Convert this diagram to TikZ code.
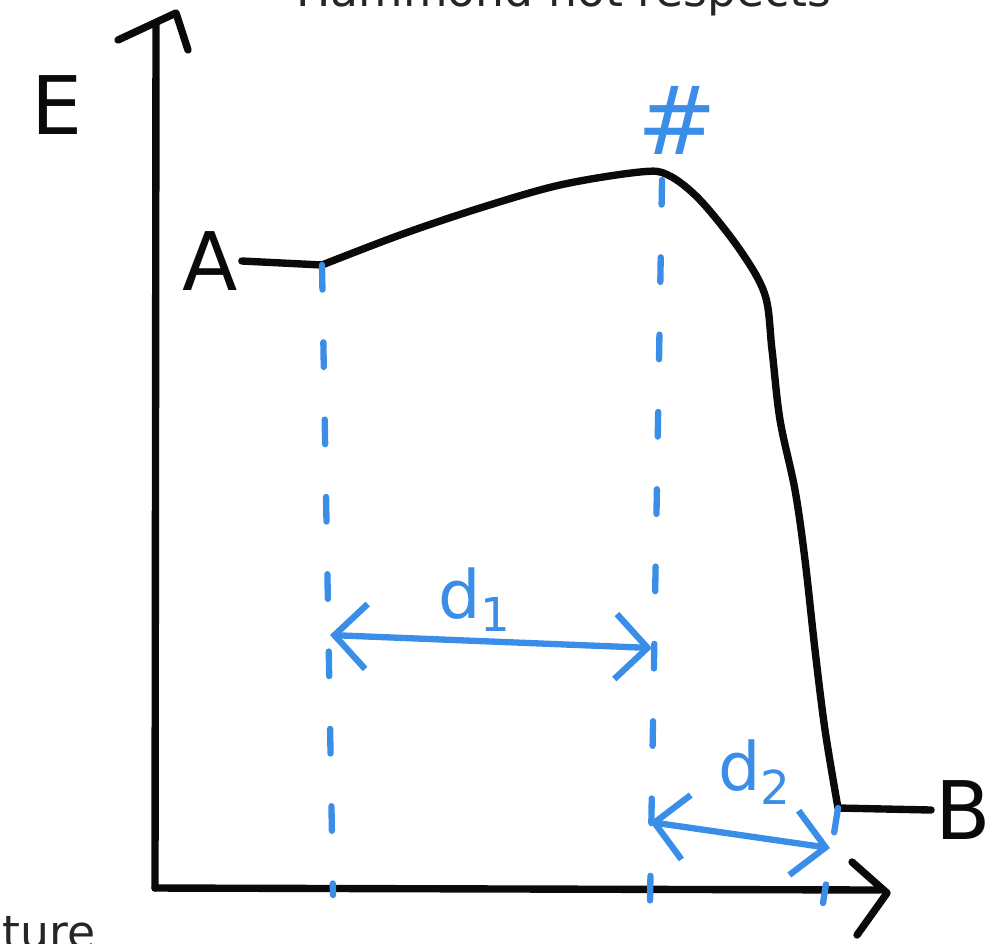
\documentclass[tikz,border=0pt]{standalone}
\usepackage{fontspec}
\setsansfont{DejaVu Sans}
\usetikzlibrary{arrows.meta}
\definecolor{skBlue}{HTML}{3A8EE8}
\definecolor{skInk}{HTML}{0A0A0A}
\tikzset{
  axis/.style={draw=skInk, line width=2.1pt, line cap=round, line join=round},
  curve/.style={draw=skInk, line width=2.1pt, line cap=round, line join=round},
  guide/.style={draw=skBlue, line width=1.8pt, line cap=round, dash pattern=on 7pt off 15pt},
  span/.style={draw=skBlue, line width=1.8pt, line cap=round, <->,
              >={Straight Barb[length=3.2mm,width=6.5mm]}},
  hand/.style={font=\sffamily\fontsize{23}{23}\selectfont, inner sep=1pt, text=skInk},
  bluehand/.style={font=\sffamily\fontsize{19}{19}\selectfont, inner sep=1pt, text=skBlue},
  note/.style={font=\sffamily\fontsize{13}{13}\selectfont, inner sep=0pt, text=black!85},
}
\begin{document}
\begin{tikzpicture}
  \useasboundingbox (0,0) rectangle (10,9.43);
  % printed text cut by the page
  \node[note,anchor=base] (title) at (5.64,9.36) {Hammond not respects};
  \node[note,anchor=base west] (foot) at (0.02,-0.05) {ture};

  % axes
  \coordinate (O) at (1.55,0.55);
  \coordinate (ytop) at (1.56,9.20);
  \coordinate (xend) at (8.80,0.53);
  \draw[axis] (O) -- (ytop);
  \draw[axis] (O) -- (xend);
  \draw[axis] (1.18,9.03) -- (1.76,9.30) -- (1.88,8.93);
  \draw[axis] (8.52,0.81) -- (8.87,0.50) -- (8.57,0.08);
  \node[hand] (E) at (0.57,8.38) {E};

  % energy profile
  \node[hand] (A) at (2.10,6.82) {A};
  \node[hand] (B) at (9.63,1.33) {B};
  \coordinate (aEnd) at (3.22,6.78);
  \coordinate (peak) at (6.68,7.68);
  \coordinate (bStart) at (8.38,1.35);
  \draw[curve] (A.east) -- (aEnd)
    plot[smooth,tension=0.55] coordinates {(aEnd) (4.00,7.08) (4.80,7.35) (5.60,7.58)
      (6.40,7.71) (peak) (7.00,7.43) (7.40,6.93) (7.65,6.48) (7.72,5.93) (7.80,5.23)
      (7.95,4.53) (8.05,3.83) (8.15,2.93) (8.25,2.13) (bStart)}
    -- (B.west);
  \node[bluehand,font=\sffamily\fontsize{27}{27}\selectfont] (ts) at (6.77,8.23) {\#};

  % distances
  \coordinate (g1b) at (3.33,0.48);
  \coordinate (g2t) at (6.62,7.63);
  \coordinate (g2b) at (6.50,0.40);
  \coordinate (g3b) at (8.23,0.40);
  \draw[guide] (aEnd) -- (g1b);
  \draw[guide] (g2t) -- (g2b);
  \draw[guide] (bStart) -- (g3b);
  \coordinate (s1l) at (3.30,3.08);
  \coordinate (s1r) at (6.52,2.95);
  \coordinate (s2l) at (6.50,1.21);
  \coordinate (s2r) at (8.30,0.95);
  \draw[span] (s1l) -- (s1r);
  \draw[span] (s2l) -- (s2r);
  \node[bluehand] (d1) at (4.75,3.43) {d\textsubscript{1}};
  \node[bluehand] (d2) at (7.55,1.71) {d\textsubscript{2}};
\end{tikzpicture}
\end{document}
